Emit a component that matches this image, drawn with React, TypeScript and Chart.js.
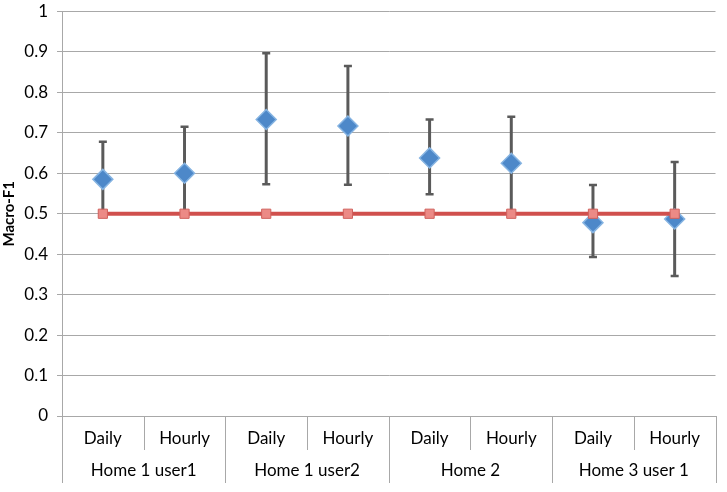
import React, { useEffect, useRef } from "react";
import { Chart, registerables } from "chart.js";

Chart.register(...registerables);

const categories = ["Daily", "Hourly", "Daily", "Hourly", "Daily", "Hourly", "Daily", "Hourly"];
const groups = ["Home 1 user1", "Home 1 user2", "Home 2", "Home 3 user 1"];
const meanF1 = [0.585, 0.6, 0.733, 0.717, 0.638, 0.625, 0.478, 0.487];
const errUpper = [0.678, 0.715, 0.897, 0.865, 0.733, 0.74, 0.571, 0.628];
const errLower = [0.495, 0.495, 0.573, 0.572, 0.548, 0.5, 0.393, 0.346];
const baseline = [0.5, 0.5, 0.5, 0.5, 0.5, 0.5, 0.5, 0.5];

const FONT = "Lato, 'Liberation Sans', sans-serif";
const GRID = "#a8a8a8";

const errorBarPlugin = {
  id: "errorBars",
  beforeDatasetsDraw(chart: any) {
    const { ctx, scales } = chart;
    const xs = scales.x;
    const ys = scales.y;
    ctx.save();
    ctx.strokeStyle = "#5a5a5a";
    for (let i = 0; i < meanF1.length; i++) {
      const px = xs.getPixelForValue(i);
      const yt = ys.getPixelForValue(errUpper[i]);
      const yb = ys.getPixelForValue(errLower[i]);
      ctx.lineWidth = 3;
      ctx.beginPath();
      ctx.moveTo(px, yt);
      ctx.lineTo(px, yb);
      ctx.stroke();
      ctx.lineWidth = 2.5;
      ctx.beginPath();
      ctx.moveTo(px - 4, yt);
      ctx.lineTo(px + 4, yt);
      ctx.moveTo(px - 4, yb);
      ctx.lineTo(px + 4, yb);
      ctx.stroke();
    }
    ctx.restore();
  },
};

const groupAxisPlugin = {
  id: "groupAxis",
  afterDraw(chart: any) {
    const { ctx, chartArea, scales } = chart;
    const xs = scales.x;
    const n = categories.length;
    const bottom = chartArea.bottom;
    const w = (chartArea.right - chartArea.left) / n;
    ctx.save();
    ctx.strokeStyle = GRID;
    ctx.lineWidth = 1;
    for (let i = 0; i <= n; i++) {
      const bx = Math.round(chartArea.left + i * w) + 0.5;
      const len = i % 2 === 0 ? 67 : 34;
      ctx.beginPath();
      ctx.moveTo(bx, bottom);
      ctx.lineTo(bx, bottom + len);
      ctx.stroke();
    }
    ctx.fillStyle = "#000";
    ctx.font = "17px " + FONT;
    ctx.textAlign = "center";
    ctx.textBaseline = "middle";
    for (let i = 0; i < n; i++) {
      ctx.fillText(categories[i], xs.getPixelForValue(i), bottom + 23);
    }
    for (let g = 0; g < groups.length; g++) {
      const cx = (xs.getPixelForValue(2 * g) + xs.getPixelForValue(2 * g + 1)) / 2;
      ctx.fillText(groups[g], cx, bottom + 55);
    }
    ctx.restore();
  },
};

export default function App() {
  const ref = useRef<HTMLCanvasElement | null>(null);
  useEffect(() => {
    document.body.style.margin = "0";
    const chart = new Chart(ref.current as HTMLCanvasElement, {
      type: "line",
      data: {
        labels: categories,
        datasets: [
          {
            label: "Baseline",
            data: baseline,
            borderColor: "#d0504d",
            borderWidth: 4,
            pointStyle: "rect",
            pointRadius: 6.5,
            pointBackgroundColor: "#ec8a86",
            pointBorderColor: "#d0615d",
            pointBorderWidth: 1,
            order: 0,
          },
          {
            label: "Macro-F1",
            data: meanF1,
            showLine: false,
            pointStyle: "rectRot",
            pointRadius: 10,
            pointBackgroundColor: "#4d88c9",
            pointBorderColor: "#86b4e2",
            pointBorderWidth: 1.5,
            order: 1,
          },
        ],
      },
      options: {
        animation: false,
        responsive: true,
        maintainAspectRatio: false,
        layout: { padding: { top: 9, right: 9, left: 0, bottom: 0 } },
        plugins: { legend: { display: false }, tooltip: { enabled: false } },
        scales: {
          x: {
            type: "category",
            offset: true,
            grid: { display: false },
            border: { display: true, color: GRID, width: 1 },
            ticks: { display: false },
            afterFit: (s: any) => {
              s.height = 76;
              s.paddingLeft = 0;
              s.paddingRight = 0;
            },
          },
          y: {
            min: 0,
            max: 1,
            ticks: {
              stepSize: 0.1,
              color: "#000",
              font: { family: FONT, size: 17 },
              padding: 9,
              callback: (v: any) => String(Number(Number(v).toFixed(1))),
            },
            grid: { color: GRID, lineWidth: 1, tickLength: 5 },
            border: { display: true, color: GRID, width: 1 },
            title: {
              display: true,
              text: "Macro-F1",
              color: "#000",
              font: { family: FONT, size: 15, weight: "bold" },
              padding: 0,
            },
            afterFit: (s: any) => {
              s.width = 62;
              s.paddingTop = 0;
              s.paddingBottom = 0;
            },
          },
        },
      },
      plugins: [errorBarPlugin, groupAxisPlugin],
    } as any);
    return () => chart.destroy();
  }, []);
  return (
    <div style={{ width: 727, height: 492, position: "relative" }}>
      <canvas ref={ref} />
    </div>
  );
}
